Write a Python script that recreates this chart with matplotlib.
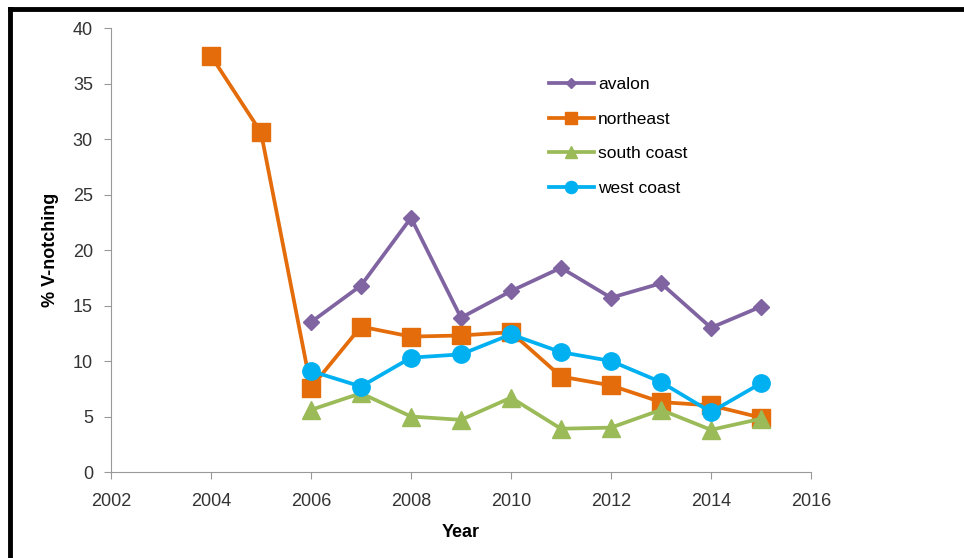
import matplotlib.pyplot as plt
from matplotlib.lines import Line2D

plt.rcParams['font.family'] = ['Liberation Sans', 'DejaVu Sans']

# data
years_ne = [2004, 2005, 2006, 2007, 2008, 2009, 2010, 2011, 2012, 2013, 2014, 2015]
northeast = [37.5, 30.6, 7.6, 13.1, 12.2, 12.3, 12.6, 8.6, 7.8, 6.3, 6.0, 4.9]

years = [2006, 2007, 2008, 2009, 2010, 2011, 2012, 2013, 2014, 2015]
avalon = [13.5, 16.8, 22.9, 13.9, 16.3, 18.4, 15.7, 17.0, 13.0, 14.9]
south_coast = [5.6, 7.1, 5.0, 4.7, 6.7, 3.9, 4.0, 5.6, 3.8, 4.8]
west_coast = [9.1, 7.7, 10.3, 10.6, 12.4, 10.8, 10.0, 8.1, 5.4, 8.0]

x_ticks = [2002, 2004, 2006, 2008, 2010, 2012, 2014, 2016]
y_ticks = [0, 5, 10, 15, 20, 25, 30, 35, 40]

fig = plt.figure(figsize=(9.64, 5.58), dpi=100)
ax = fig.add_axes([0.1151, 0.1541, 0.7262, 0.7957])

lw = 2.7
ax.plot(years, avalon, color='#8064A2', lw=lw, marker='D', ms=8, label='avalon')
ax.plot(years_ne, northeast, color='#E46C0A', lw=lw, marker='s', ms=12.5, label='northeast')
ax.plot(years, south_coast, color='#9BBB59', lw=lw, marker='^', ms=12.5, label='south coast')
ax.plot(years, west_coast, color='#00B0F0', lw=lw, marker='o', ms=12.5, label='west coast')

ax.set_xlim(2002, 2016)
ax.set_ylim(0, 40)
ax.set_xticks(x_ticks)
ax.set_yticks(y_ticks)
ax.tick_params(labelsize=13, colors='#333333', length=5, direction='out')
ax.tick_params(axis='x', pad=10)
ax.tick_params(axis='y', pad=8)
for s in ['top', 'right']:
    ax.spines[s].set_visible(False)
for s in ['left', 'bottom']:
    ax.spines[s].set_color('#999999')
ax.tick_params(color='#999999')

ax.set_xlabel('Year', fontsize=13, fontweight='bold', labelpad=10)
ax.set_ylabel('% V-notching', fontsize=13, fontweight='bold', labelpad=10)

# legend with marker in the middle of the line
ax.legend(loc='upper left', bbox_to_anchor=(0.603, 0.925), frameon=False, fontsize=12.5,
          handlelength=2.6, labelspacing=1.12, handletextpad=0.25, markerscale=0.7)

# black frame on left and top
fig.add_artist(Line2D([0.0104, 0.0104], [0.0, 0.984], color='black', lw=3.5))
fig.add_artist(Line2D([0.0104, 1.0], [0.984, 0.984], color='black', lw=3.5))

plt.savefig('out.png', dpi=100)
